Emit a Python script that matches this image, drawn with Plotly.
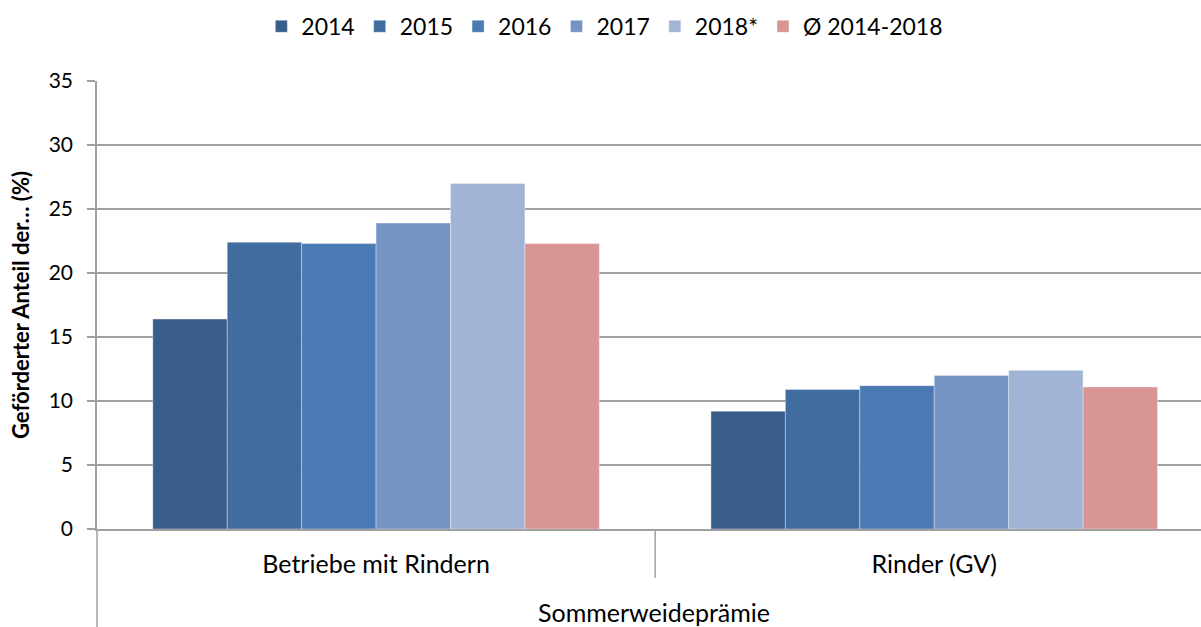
import plotly.graph_objects as go

categories = ["Betriebe mit Rindern", "Rinder (GV)"]
group_label = "Sommerweideprämie"
series_names = ["2014", "2015", "2016", "2017", "2018*", "Ø 2014-2018"]
values_2014 = [16.4, 9.2]
values_2015 = [22.4, 10.9]
values_2016 = [22.3, 11.2]
values_2017 = [23.9, 12.0]
values_2018 = [27.0, 12.4]
values_avg = [22.3, 11.1]
series_values = [values_2014, values_2015, values_2016, values_2017, values_2018, values_avg]
colors = ["#395D89", "#416C9F", "#4A7AB3", "#7494C4", "#A2B4D5", "#D99594"]
y_ticks = [0, 5, 10, 15, 20, 25, 30, 35]

FONT = "Lato"
GRID = "#A0A0A0"

fig = go.Figure()
for name, vals, col in zip(series_names, series_values, colors):
    fig.add_trace(go.Bar(
        x=categories, y=vals, name=name,
        marker=dict(color=col, line=dict(color="rgba(255,255,255,0.35)", width=1)),
    ))

fig.update_layout(
    width=1201, height=627,
    margin=dict(l=97, r=0, t=81, b=98),
    paper_bgcolor="white", plot_bgcolor="white",
    barmode="group", bargap=0.2, bargroupgap=0,
    font=dict(family=FONT, size=22, color="#000000"),
    legend=dict(orientation="h", x=0.46, xanchor="center", y=1.122, yanchor="middle",
                font=dict(family=FONT, size=23), itemwidth=30, traceorder="normal"),
    showlegend=True,
)
fig.update_yaxes(
    range=[0, 35], tickvals=y_ticks, showgrid=True, gridcolor=GRID, gridwidth=1.5,
    showline=True, linecolor=GRID, linewidth=1.5, ticks="outside", ticklen=8, tickcolor=GRID,
    tickwidth=1.5, tickfont=dict(family=FONT, size=21), zeroline=False, ticklabelstandoff=10,
    title=dict(text="<b>Geförderter Anteil der… (%)</b>", font=dict(family=FONT, size=22), standoff=13),
)
fig.update_xaxes(
    range=[-0.5, 1.478],
    showline=True, linecolor=GRID, linewidth=1.5, ticks="", showgrid=False,
    tickfont=dict(family=FONT, size=25), ticklabelstandoff=12,
)
# category dividers
fig.add_shape(type="line", xref="x", yref="paper", x0=0.5, x1=0.5, y0=0, y1=-0.109,
              line=dict(color=GRID, width=1.5))
fig.add_shape(type="line", xref="paper", yref="paper", x0=0, x1=0, y0=0, y1=-0.22,
              line=dict(color=GRID, width=1.5))
fig.add_annotation(text=group_label, xref="paper", yref="paper", x=0.5045, y=-0.185,
                   showarrow=False, font=dict(family=FONT, size=25), yanchor="middle")

fig.write_html("out.html", config={"displayModeBar": False},
               post_script="document.body.style.margin='0';document.body.style.overflow='hidden';")
